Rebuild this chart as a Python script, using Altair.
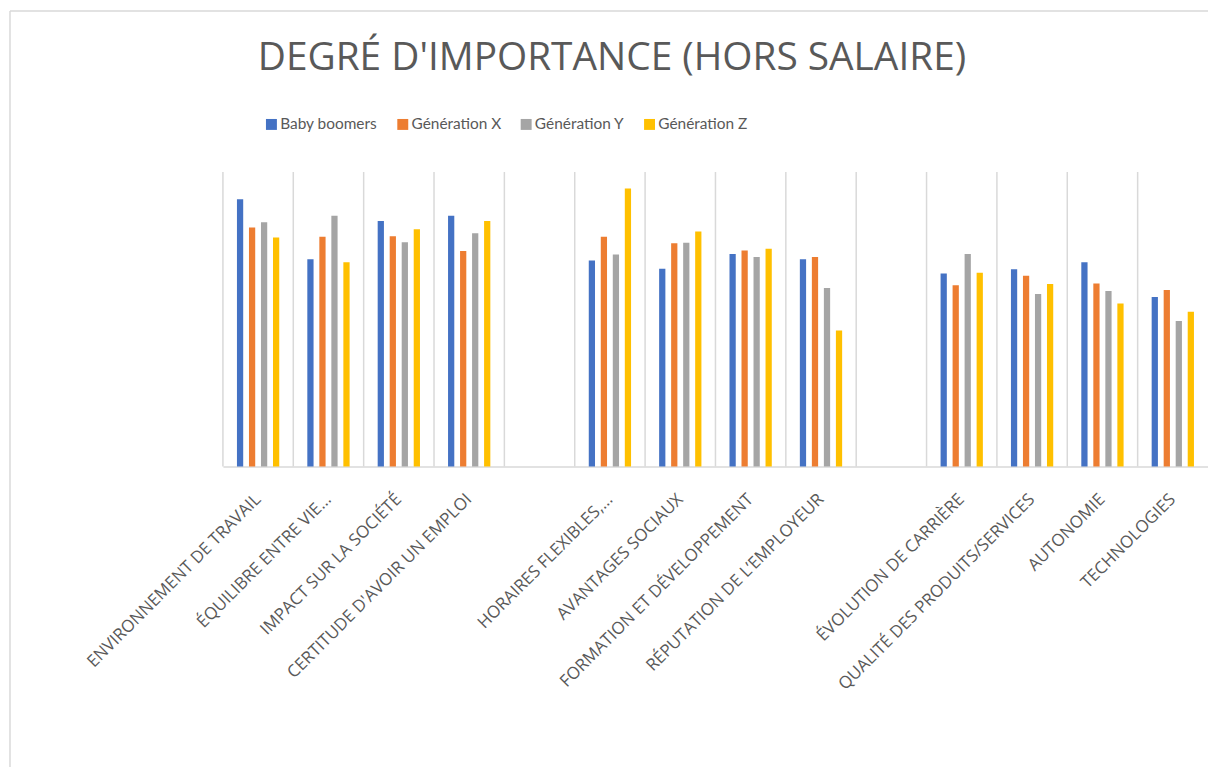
import altair as alt
import pandas as pd

categories = [
    "ENVIRONNEMENT DE TRAVAIL",
    "ÉQUILIBRE ENTRE VIE…",
    "IMPACT SUR LA SOCIÉTÉ",
    "CERTITUDE D'AVOIR UN EMPLOI",
    " ",
    "HORAIRES FLEXIBLES,…",
    "AVANTAGES SOCIAUX",
    "FORMATION ET DÉVELOPPEMENT",
    "RÉPUTATION DE L’EMPLOYEUR",
    "  ",
    "ÉVOLUTION DE CARRIÈRE",
    "QUALITÉ DES PRODUITS/SERVICES",
    "AUTONOMIE",
    "TECHNOLOGIES",
]
series = ["Baby boomers", "Génération X", "Génération Y", "Génération Z"]
colors = ["#4472C4", "#ED7D31", "#A5A5A5", "#FFC000"]

baby_boomers = [4.54, 3.52, 4.17, 4.26, None, 3.50, 3.36, 3.61, 3.52, None, 3.28, 3.35, 3.47, 2.88]
generation_x = [4.06, 3.90, 3.91, 3.66, None, 3.90, 3.79, 3.67, 3.56, None, 3.08, 3.24, 3.11, 3.00]
generation_y = [4.15, 4.26, 3.81, 3.96, None, 3.60, 3.80, 3.56, 3.03, None, 3.61, 2.93, 2.98, 2.47]
generation_z = [3.89, 3.47, 4.03, 4.17, None, 4.72, 3.99, 3.70, 2.31, None, 3.29, 3.10, 2.77, 2.63]

title_text = "DEGRÉ D'IMPORTANCE (HORS SALAIRE)"

rows = []
for name, vals in zip(series, [baby_boomers, generation_x, generation_y, generation_z]):
    for c, v in zip(categories, vals):
        if v is not None:
            rows.append({"cat": c, "gen": name, "val": v})
df = pd.DataFrame(rows)
grid_df = pd.DataFrame({"cat": categories})

W = 990
H = 296
GRAY = "#D9D9D9"
TXT = "#595959"

xscale = alt.Scale(domain=categories, paddingInner=0, paddingOuter=0)

bars = alt.Chart(df).mark_bar().encode(
    x=alt.X("cat:N", scale=xscale, sort=categories,
            axis=alt.Axis(title=None, labelAngle=-45, labelAlign="right", labelBaseline="middle",
                          labelFont="Open Sans", labelFontSize=17, labelColor=TXT, labelLimit=0,
                          labelPadding=30, ticks=False, tickSize=0, grid=False,
                          domainColor=GRAY, domainWidth=1.5)),
    xOffset=alt.XOffset("gen:N", sort=series,
                        scale=alt.Scale(domain=series, range=[14.1, 56.6],
                                        paddingInner=0.48, paddingOuter=0)),
    y=alt.Y("val:Q", scale=alt.Scale(domain=[0, 5]), axis=None),
    color=alt.Color("gen:N", sort=series, scale=alt.Scale(domain=series, range=colors),
                    legend=alt.Legend(title=None, orient="none", direction="horizontal",
                                      legendX=41, legendY=-56, symbolType="square", symbolSize=121,
                                      symbolStrokeWidth=0, labelFont="Lato", labelFontSize=15.5,
                                      labelColor=TXT, labelOffset=1, columnPadding=17, padding=0)),
)

grid = alt.Chart(grid_df).mark_rule(color=GRAY, strokeWidth=1.5).encode(
    x=alt.X("cat:N", scale=xscale, sort=categories, bandPosition=0),
    y=alt.value(0),
    y2=alt.value(H),
)

title = alt.Chart(pd.DataFrame({"t": [title_text]})).mark_text(
    font="Open Sans", fontSize=39, color=TXT, align="center", baseline="alphabetic"
).encode(text="t:N", x=alt.value(391), y=alt.value(-103))

border_left = alt.Chart(pd.DataFrame({"k": [0]})).mark_rule(color=GRAY, strokeWidth=1.5).encode(
    x=alt.value(-214), y=alt.value(-162), y2=alt.value(700)
)
border_top = alt.Chart(pd.DataFrame({"k": [0]})).mark_rule(color=GRAY, strokeWidth=1.5).encode(
    x=alt.value(-214), x2=alt.value(1100), y=alt.value(-162)
)

chart = alt.layer(border_left, border_top, grid, bars, title).properties(
    width=W, height=H,
    autosize=alt.AutoSizeParams(type="none"),
    padding={"left": 216, "top": 163, "right": 0, "bottom": 300},
).configure_view(stroke=None)

chart.save("out.html", embed_options={"renderer": "svg", "actions": False})
